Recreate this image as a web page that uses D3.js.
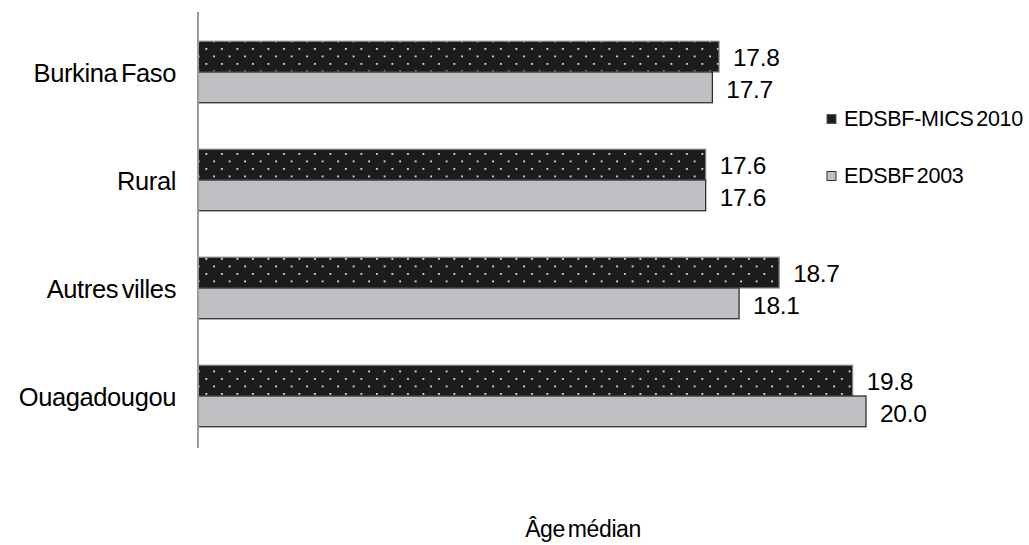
<!DOCTYPE html>
<html>
<head>
<meta charset="utf-8">
<script src="https://cdn.jsdelivr.net/npm/d3@7"></script>
<style>
  body { margin: 0; background: #fff; }
  svg { display: block; font-family: "Liberation Sans", Arial, sans-serif; }
</style>
</head>
<body>
<svg id="chart" width="1029" height="545"></svg>
<script>
const categories = ["Burkina Faso", "Rural", "Autres villes", "Ouagadougou"];
const seriesNames = ["EDSBF-MICS 2010", "EDSBF 2003"];
const values2010 = [17.8, 17.6, 18.7, 19.8];
const values2003 = [17.7, 17.6, 18.1, 20.0];
const axisTitle = "Âge médian";

const svg = d3.select("#chart");
const defs = svg.append("defs");
const pat = defs.append("pattern")
  .attr("id", "dots").attr("patternUnits", "userSpaceOnUse")
  .attr("width", 15.5).attr("height", 15);
pat.append("rect").attr("width", 15.5).attr("height", 15).attr("fill", "#1c1c1c");
pat.append("rect").attr("x", 4).attr("y", 3).attr("width", 1.8).attr("height", 1.8).attr("fill", "#e0e0e0");
pat.append("rect").attr("x", 11.75).attr("y", 10.5).attr("width", 1.8).attr("height", 1.8).attr("fill", "#e0e0e0");

const x = d3.scaleLinear().domain([10, 20]).range([198, 866]);
const y = d3.scaleBand().domain(categories).range([18, 450]).paddingInner(0.43).paddingOuter(0.215);
const ySub = d3.scaleBand().domain([0, 1]).range([0, y.bandwidth()]);

const fills = ["url(#dots)", "#c0c0c4"];
const strokes = ["#888", "#222"];
const data = categories.map((c, i) => ({ c, v: [values2010[i], values2003[i]] }));

const g = svg.append("g");
data.forEach(d => {
  d.v.forEach((v, s) => {
    g.append("rect")
      .attr("x", x(10))
      .attr("y", y(d.c) + ySub(s))
      .attr("width", x(v) - x(10))
      .attr("height", ySub.bandwidth())
      .attr("fill", fills[s])
      .attr("stroke", strokes[s])
      .attr("stroke-width", 1.2);
    g.append("text")
      .attr("x", x(v) + 14)
      .attr("y", y(d.c) + ySub(s) + ySub.bandwidth() / 2 + (s === 0 ? 1 : 2))
      .attr("dominant-baseline", "central")
      .attr("font-size", 24.5)
      .attr("letter-spacing", -0.3)
      .attr("fill", "#000")
      .text(v.toFixed(1));
  });
});

// y axis
const yAxis = d3.axisLeft(y).tickSize(0).tickPadding(22);
const ya = svg.append("g").attr("transform", `translate(${x(10)},0)`).call(yAxis);
ya.select(".domain").remove();
ya.selectAll("text").attr("font-size", 25.5).attr("fill", "#000")
  .attr("letter-spacing", -0.4)
  .attr("word-spacing", -3)
  .attr("font-family", "Liberation Sans, Arial, sans-serif")
  .attr("dy", "0.4em");
svg.append("line").attr("x1", x(10)).attr("x2", x(10)).attr("y1", 12).attr("y2", 448)
  .attr("stroke", "#999").attr("stroke-width", 2);

// axis title
svg.append("text").attr("x", 583).attr("y", 537).attr("text-anchor", "middle")
  .attr("font-size", 23).attr("letter-spacing", -0.4).attr("word-spacing", -3)
  .attr("fill", "#000").text(axisTitle);

// legend
const legendY = [119, 176];
seriesNames.forEach((n, i) => {
  svg.append("rect").attr("x", 827).attr("y", legendY[i] - 4.5).attr("width", 9).attr("height", 9)
    .attr("fill", i === 0 ? "#1c1c1c" : "#c0c0c4").attr("stroke", i === 0 ? "#555" : "#333").attr("stroke-width", 1);
  svg.append("text").attr("x", 844).attr("y", legendY[i]).attr("dominant-baseline", "central")
    .attr("font-size", 21.5).attr("letter-spacing", -0.3).attr("word-spacing", -3)
    .attr("fill", "#000").text(n);
});
</script>
</body>
</html>
